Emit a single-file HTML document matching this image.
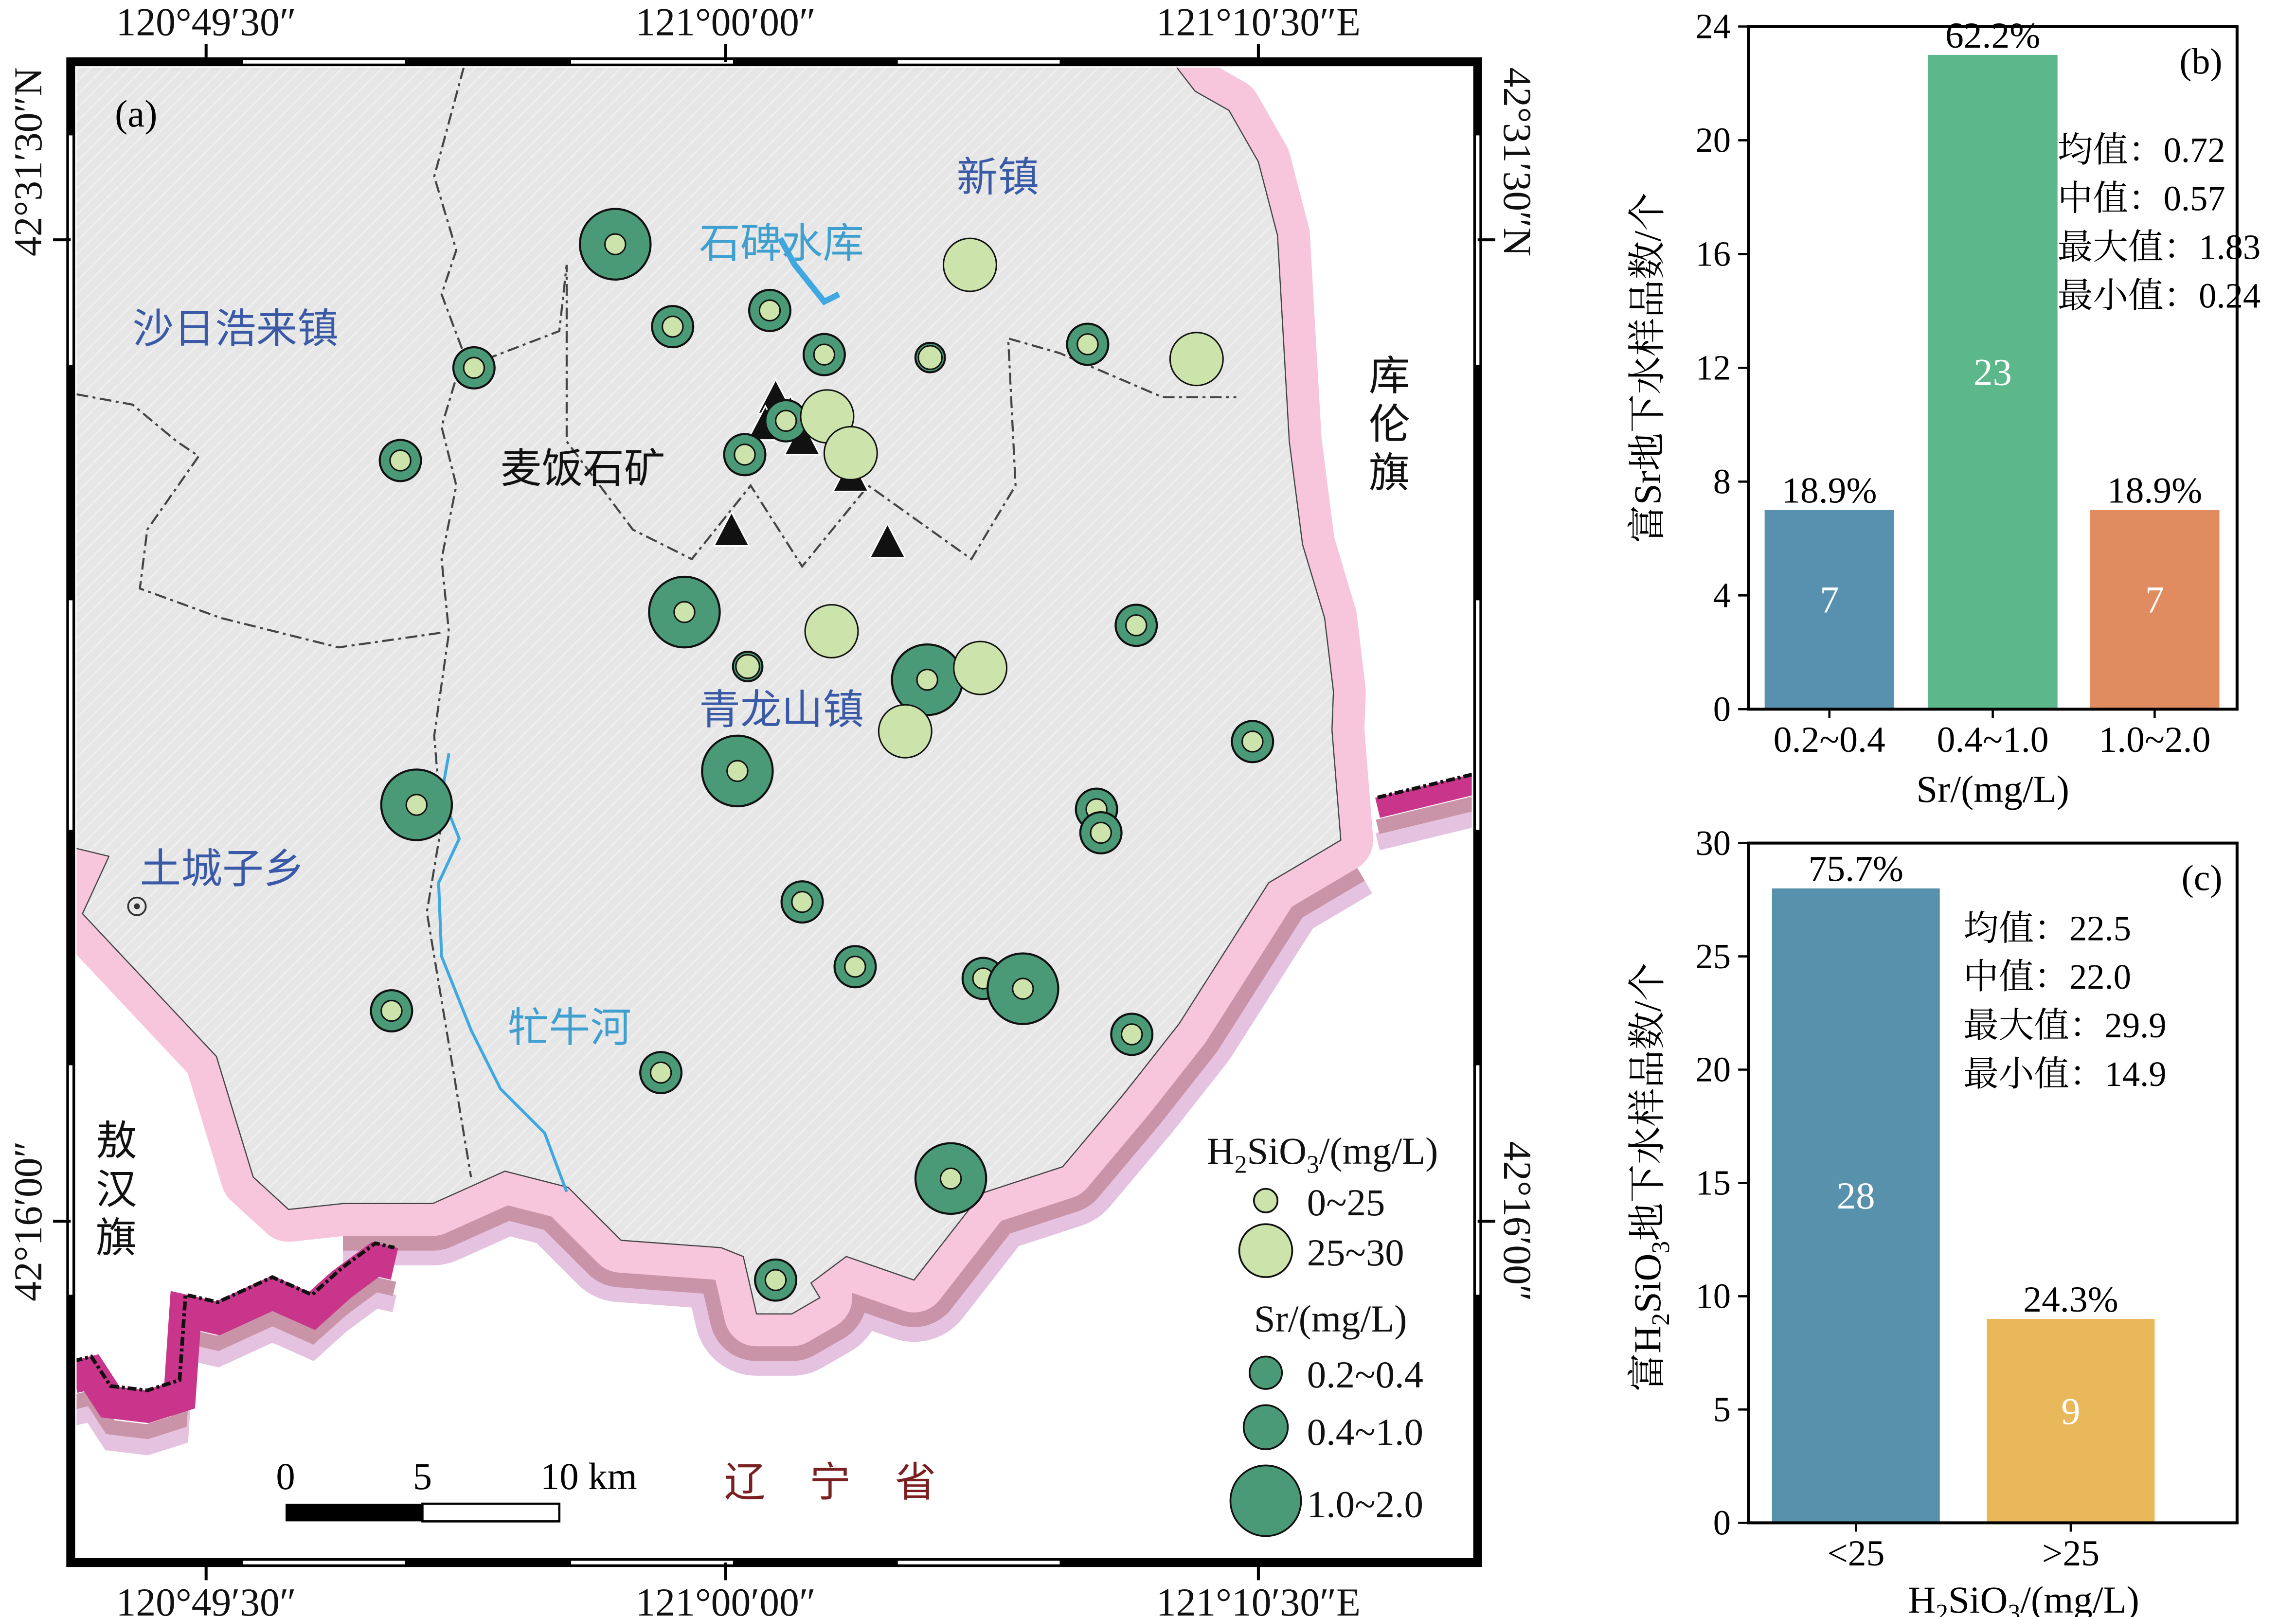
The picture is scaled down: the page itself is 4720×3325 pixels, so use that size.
<!DOCTYPE html>
<html><head><meta charset="utf-8"><style>
html,body{margin:0;padding:0;background:#fff}
svg{display:block}
text{font-family:"Liberation Serif","Noto Serif CJK SC",serif}
.cn{font-family:"Liberation Sans","Noto Sans CJK SC",sans-serif}
</style></head><body>
<svg id="fig" width="4720" height="3325" viewBox="0 0 1560 1099" xmlns="http://www.w3.org/2000/svg">
<defs>
<clipPath id="mapclip"><rect x="52" y="46" width="948" height="1012"/></clipPath>
<pattern id="hs" width="9" height="9" patternUnits="userSpaceOnUse"><rect width="9" height="9" fill="#e6e6e6"/><path d="M0 9 L9 0" stroke="#eeeeee" stroke-width="1.2"/></pattern>
</defs>
<g clip-path="url(#mapclip)">
<rect x="52" y="46" width="948" height="1012" fill="#fff"/>
<g id="bands"></g>
<g id="admin" fill="none" stroke="#444" stroke-width="1.4" stroke-dasharray="8 3 2 3">
<path d="M315 46 L295 120 L310 170 L300 200 L315 240 L300 290 L310 330 L300 380 L305 430 L295 500 L300 560 L290 620 L300 680 L310 740 L320 800"/>
<path d="M52 268 L90 275 L120 300 L135 310 L100 360 L95 400 L150 420 L230 440 L300 430"/>
<path d="M315 250 L380 225 L385 180 L385 300 L430 360 L470 380 L510 330 L545 385 L590 330 L660 380 L690 330 L685 230 L720 240 L790 270 L840 270"/>
</g>
<path fill="none" stroke="#40a8e0" stroke-width="4" d="M530 162 L540 180 L560 205 L570 200"/>
<path fill="none" stroke="#40a8e0" stroke-width="2" d="M305 512 L300 540 L312 570 L298 600 L300 650 L320 700 L340 740 L370 770 L385 810"/>
</g>
<g id="tri"></g>
<g id="pts"></g>
<!-- frame -->
<rect x="48" y="42" width="956" height="1020" fill="none" stroke="#000" stroke-width="6"/>
<g stroke="#fff" stroke-width="2.4">
<line x1="165" y1="42" x2="275" y2="42"/><line x1="388" y1="42" x2="498" y2="42"/><line x1="610" y1="42" x2="720" y2="42"/>
<line x1="165" y1="1062" x2="275" y2="1062"/><line x1="388" y1="1062" x2="498" y2="1062"/><line x1="610" y1="1062" x2="720" y2="1062"/>
<line x1="48" y1="92" x2="48" y2="248"/><line x1="48" y1="408" x2="48" y2="564"/><line x1="48" y1="724" x2="48" y2="880"/>
<line x1="1004" y1="92" x2="1004" y2="248"/><line x1="1004" y1="408" x2="1004" y2="564"/><line x1="1004" y1="724" x2="1004" y2="880"/>
</g>
<g stroke="#000" stroke-width="2">
<line x1="140" y1="30" x2="140" y2="42"/><line x1="493" y1="30" x2="493" y2="42"/><line x1="855" y1="30" x2="855" y2="42"/>
<line x1="140" y1="1062" x2="140" y2="1074"/><line x1="493" y1="1062" x2="493" y2="1074"/><line x1="855" y1="1062" x2="855" y2="1074"/>
<line x1="36" y1="163" x2="48" y2="163"/><line x1="36" y1="830" x2="48" y2="830"/>
<line x1="1004" y1="163" x2="1016" y2="163"/><line x1="1004" y1="830" x2="1016" y2="830"/>
</g>
<g font-size="27" fill="#111">
<text x="140" y="24" text-anchor="middle">120°49′30″</text>
<text x="493" y="24" text-anchor="middle">121°00′00″</text>
<text x="855" y="24" text-anchor="middle">121°10′30″E</text>
<text x="140" y="1098" text-anchor="middle">120°49′30″</text>
<text x="493" y="1098" text-anchor="middle">121°00′00″</text>
<text x="855" y="1098" text-anchor="middle">121°10′30″E</text>
<text transform="translate(28,110) rotate(-90)" text-anchor="middle">42°31′30″N</text>
<text transform="translate(28,830) rotate(-90)" text-anchor="middle">42°16′00″</text>
<text transform="translate(1022,110) rotate(90)" text-anchor="middle">42°31′30″N</text>
<text transform="translate(1022,830) rotate(90)" text-anchor="middle">42°16′00″</text>
</g>
<text x="78" y="86" font-size="26">(a)</text>
<g class="cn" font-size="28" fill="#3a5aa8">
<text class="cn" x="90" y="233">沙日浩来镇</text>
<text class="cn" x="650" y="130">新镇</text>
<text class="cn" x="475" y="492">青龙山镇</text>
<text class="cn" x="95" y="600">土城子乡</text>
<text class="cn" x="475" y="175" fill="#3fa0d0">石碑水库</text>
<text class="cn" x="345" y="708" fill="#3fa0d0">牤牛河</text>
<text class="cn" x="340" y="328" fill="#111">麦饭石矿</text>
<text class="cn" x="930" y="265" fill="#111">库</text><text class="cn" x="930" y="298" fill="#111">伦</text><text class="cn" x="930" y="331" fill="#111">旗</text>
<text class="cn" x="65" y="785" fill="#111">敖</text><text class="cn" x="65" y="818" fill="#111">汉</text><text class="cn" x="65" y="851" fill="#111">旗</text>
<text class="cn" x="492" y="1017" fill="#7a2020" letter-spacing="30">辽宁省</text>
</g>
<circle cx="93" cy="616" r="6" fill="none" stroke="#333" stroke-width="1.2"/><circle cx="93" cy="616" r="2" fill="#333"/>
<g>
<rect x="194" y="1022" width="93" height="12" fill="#000"/><rect x="287" y="1022" width="93" height="12" fill="#fff" stroke="#000" stroke-width="1.5"/>
<text x="194" y="1012" font-size="26" text-anchor="middle">0</text><text x="287" y="1012" font-size="26" text-anchor="middle">5</text><text x="400" y="1012" font-size="26" text-anchor="middle">10 km</text>
</g>
<g font-size="26" fill="#111">
<text x="820" y="791">H<tspan font-size="17" dy="6">2</tspan><tspan dy="-6">SiO</tspan><tspan font-size="17" dy="6">3</tspan><tspan dy="-6">/(mg/L)</tspan></text>
<circle cx="860" cy="816" r="8" fill="#cce3ab" stroke="#111" stroke-width="1.2"/><text x="888" y="826">0~25</text>
<circle cx="860" cy="850" r="18" fill="#cce3ab" stroke="#111" stroke-width="1.2"/><text x="888" y="860">25~30</text>
<text x="852" y="905">Sr/(mg/L)</text>
<circle cx="860" cy="933" r="11" fill="#4a9a78" stroke="#111" stroke-width="1.2"/><text x="888" y="943">0.2~0.4</text>
<circle cx="860" cy="970" r="15" fill="#4a9a78" stroke="#111" stroke-width="1.2"/><text x="888" y="982">0.4~1.0</text>
<circle cx="860" cy="1020" r="24" fill="#4a9a78" stroke="#111" stroke-width="1.2"/><text x="888" y="1031">1.0~2.0</text>
</g>
<g id="chartB"></g>
<g id="chartC"></g>
</svg>
<script>
const NS='http://www.w3.org/2000/svg';
// map sample points: x, y, Sr class (0..2, 3 = small ring, -1 none), SiO3 class
const ptX=[418,457,523,560,632,659,739,813,322,272,506,534,562,578,465,565,508,630,666,615,501,283,745,748,772,851,545,581,668,695,266,769,449,646,527];
const ptY=[166,222,211,241,243,180,234,244,250,313,309,286,283,308,416,429,453,462,454,497,524,547,550,566,425,504,613,657,665,672,687,703,729,801,870];
const ptSr=[2,0,0,0,3,-1,0,-1,0,0,0,0,-1,-1,2,-1,3,2,-1,-1,2,2,0,0,0,0,0,0,0,2,0,0,0,2,0];
const ptSi=[0,0,0,0,0,1,0,1,0,0,0,0,1,1,0,1,0,0,1,1,0,0,0,0,0,0,0,0,0,0,0,0,0,0,0];
const triX=[527,537,520,545,578,497,603];
const triY=[272,283,290,300,325,362,370];
const srR=[14,18,24,10], siR=[6,18];

function el(parent,tag,attrs,txt){const e=document.createElementNS(NS,tag);for(const k in attrs)e.setAttribute(k,attrs[k]);if(txt!=null)e.textContent=txt;parent.appendChild(e);return e;}

const bnd=[[795,40],[812,62],[835,75],[855,110],[868,160],[872,230],[876,300],[885,370],[900,420],[906,470],[905,496],[911,571],[862,600],[801,696],[764,743],[722,793],[667,811],[621,870],[575,854],[551,872],[557,882],[538,893],[514,893],[505,854],[490,848],[422,843],[386,807],[343,796],[294,818],[233,818],[196,822],[172,800],[147,718],[56,621],[74,582],[45,575]];
const pstr=a=>a.map((p,i)=>(i?'L':'M')+p[0]+' '+p[1]).join(' ');
const bands=document.getElementById('bands');
const bottom=bnd.slice(11,30);
const lav=el(bands,'path',{d:pstr(bottom),fill:'none',stroke:'#e4c2e0','stroke-width':84,'stroke-linejoin':'round'});


const mau=el(bands,'path',{d:pstr(bottom),fill:'none',stroke:'#c993a8','stroke-width':64,'stroke-linejoin':'round'});


const pink=el(bands,'path',{d:pstr(bnd),fill:'none',stroke:'#f7c6dc','stroke-width':44,'stroke-linejoin':'round'});


const fillP=el(bands,'path',{d:pstr(bnd)+' L45 40 Z',fill:'url(#hs)',stroke:'#444','stroke-width':0.8});


const mag1=[[50,925],[62,922],[75,942],[100,945],[122,938],[126,880],[148,885],[185,868],[212,880],[232,862],[255,845],[268,848]];
const mag2=[[936,542],[1006,525]];
[[mag1,22],[mag2,14]].forEach(([m,w])=>{
  const sh=(d)=>m.map(p=>[p[0],p[1]+d]);
  const a=el(bands,'path',{d:pstr(sh(w+16)),fill:'none',stroke:'#e4c2e0','stroke-width':12});
  
  
  const b=el(bands,'path',{d:pstr(sh(w+6)),fill:'none',stroke:'#c993a8','stroke-width':10});
  
  
  const c=el(bands,'path',{d:pstr(sh(w/2)),fill:'none',stroke:'#c8358a','stroke-width':w});
  
  
  const d=el(bands,'path',{d:pstr(m),fill:'none',stroke:'#111','stroke-width':2.5,'stroke-dasharray':'6 2 2 2'});
  
  
});

const pts=document.getElementById('pts');
for(let i=0;i<ptX.length;i++){
  if(ptSr[i]>=0){
    const c=document.createElementNS(NS,'circle');
    c.setAttribute('cx',ptX[i]);c.setAttribute('cy',ptY[i]);c.setAttribute('r',srR[ptSr[i]]);
    c.setAttribute('fill','#4a9a78');c.setAttribute('stroke','#111');c.setAttribute('stroke-width','1.4');
    
    
    pts.appendChild(c);
  }
  const d=document.createElementNS(NS,'circle');
  let r=ptSr[i]<0?siR[1]:(ptSi[i]?siR[1]:siR[0]+1);
  if(ptSr[i]===3) r=8;
  d.setAttribute('cx',ptX[i]);d.setAttribute('cy',ptY[i]);d.setAttribute('r',r);
  d.setAttribute('fill','#cce3ab');d.setAttribute('stroke','#111');d.setAttribute('stroke-width','1');
  
  
  pts.appendChild(d);
}
const tri=document.getElementById('tri');
for(let i=0;i<triX.length;i++){
  const p=document.createElementNS(NS,'path');
  const x=triX[i],y=triY[i];
  p.setAttribute('d',`M${x} ${y-14} L${x+12} ${y+9} L${x-12} ${y+9} Z`);
  p.setAttribute('fill','#111');p.setAttribute('stroke','#fff');p.setAttribute('stroke-width','1');
  
  
  tri.appendChild(p);
}

// chart b
const bCats=['0.2~0.4','0.4~1.0','1.0~2.0'];
const bVals=[7,23,7];
const bPct=['18.9%','62.2%','18.9%'];
const bTicks=[0,4,8,12,16,20,24];
const bStats=['均值：0.72','中值：0.57','最大值：1.83','最小值：0.24'];
// chart c
const cCats=['<25','>25'];
const cVals=[28,9];
const cPct=['75.7%','24.3%'];
const cTicks=[0,5,10,15,20,25,30];
const cStats=['均值：22.5','中值：22.0','最大值：29.9','最小值：14.9'];

function drawChart(g,o){
  const {x0,x1,y0,y1,max,cats,vals,pct,ticks,colors,bw,centers,stats,sx,sy,label}=o;
  const ys=v=>y0-(v/max)*(y0-y1);
  for(let i=0;i<cats.length;i++){
    const r=el(g,'rect',{x:centers[i]-bw/2,y:ys(vals[i]),width:bw,height:y0-ys(vals[i]),fill:colors[i]});
    
    
    const vt=el(g,'text',{x:centers[i],y:(ys(vals[i])+y0)/2+2,'text-anchor':'middle','font-size':26,fill:'#fff'},String(vals[i]));
    
    
    const pt=el(g,'text',{x:centers[i],y:ys(vals[i])-5,'text-anchor':'middle','font-size':25},pct[i]);
    
    
    const ct=el(g,'text',{x:centers[i],y:y0+29,'text-anchor':'middle','font-size':25},cats[i]);
    
    
    el(g,'line',{x1:centers[i],x2:centers[i],y1:y0,y2:y0+6,stroke:'#000','stroke-width':1.5});
  }
  for(const t of ticks){
    el(g,'line',{x1:x0-7,x2:x0,y1:ys(t),y2:ys(t),stroke:'#000','stroke-width':1.5});
    const tt=el(g,'text',{x:x0-12,y:ys(t)+8,'text-anchor':'end','font-size':24},String(t));
    
    
  }
  const fr=el(g,'rect',{x:x0,y:y1,width:x1-x0,height:y0-y1,fill:'none',stroke:'#000','stroke-width':2});
  
  
  stats.forEach((s,i)=>{const st=el(g,'text',{x:sx,y:sy+i*33,'font-size':24},s);
    
    });
  const pl=el(g,'text',{x:x1-10,y:y1+32,'text-anchor':'end','font-size':25},label);
  
  
  return ys;
}
const gB=document.getElementById('chartB');
drawChart(gB,{x0:1188,x1:1520,y0:482,y1:18,max:24,cats:bCats,vals:bVals,pct:bPct,ticks:bTicks,
  colors:['#5891b0','#5cb88a','#e08c60'],bw:88,centers:[1243,1354,1464],stats:bStats,sx:1398,sy:110,label:'(b)'});
const xb=el(gB,'text',{x:1354,y:545,'text-anchor':'middle','font-size':26},'Sr/(mg/L)');


const yb=el(gB,'text',{transform:'translate(1128,250) rotate(-90)','text-anchor':'middle','font-size':26},'富Sr地下水样品数/个');



const gC=document.getElementById('chartC');
drawChart(gC,{x0:1188,x1:1520,y0:1035,y1:573,max:30,cats:cCats,vals:cVals,pct:cPct,ticks:cTicks,
  colors:['#5891ac','#e8b85a'],bw:114,centers:[1261,1407],stats:cStats,sx:1334,sy:639,label:'(c)'});
const xc=el(gC,'text',{x:1375,y:1096,'text-anchor':'middle','font-size':26});
xc.innerHTML='H<tspan font-size="17" dy="6">2</tspan><tspan dy="-6">SiO</tspan><tspan font-size="17" dy="6">3</tspan><tspan dy="-6">/(mg/L)</tspan>';


const yc=el(gC,'text',{transform:'translate(1128,800) rotate(-90)','text-anchor':'middle','font-size':26});
yc.innerHTML='富H<tspan font-size="17" dy="6">2</tspan><tspan dy="-6">SiO</tspan><tspan font-size="17" dy="6">3</tspan><tspan dy="-6">地下水样品数/个</tspan>';


</script>
</body></html>
